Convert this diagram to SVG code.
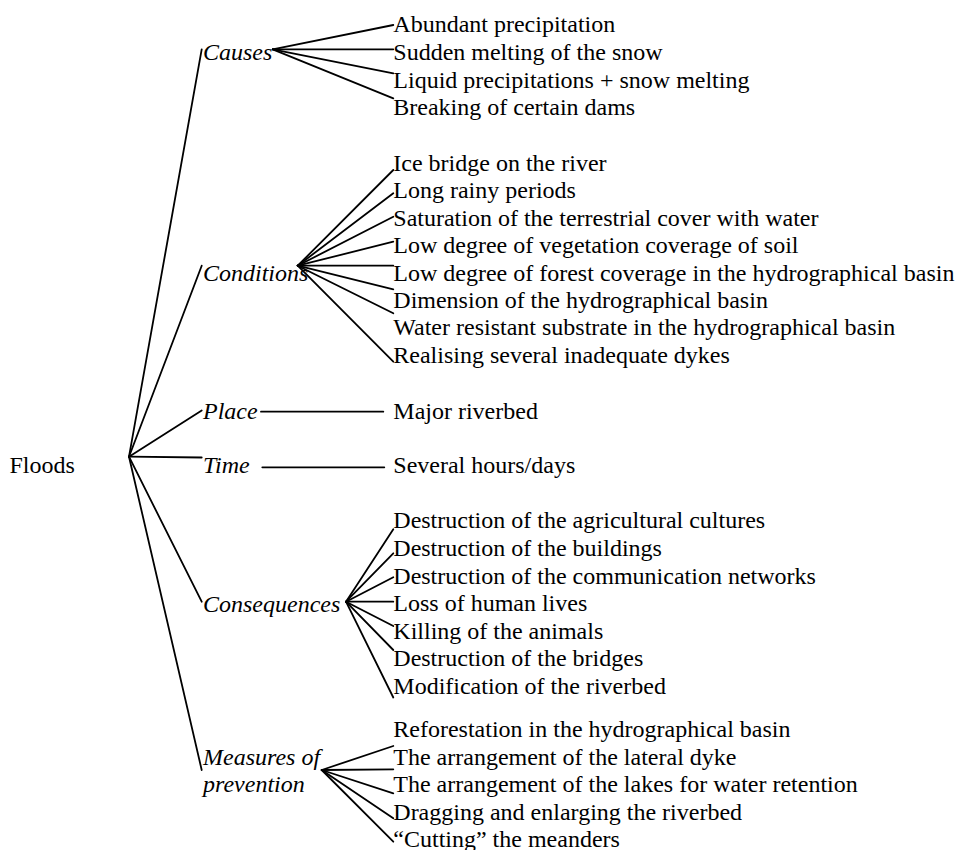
<svg xmlns="http://www.w3.org/2000/svg" width="956" height="850" viewBox="0 0 956 850">
<style>
text{font-family:"Liberation Serif","Times New Roman",serif;font-size:24px;fill:#000}
.i{font-style:italic}
#connectors line{stroke:#000;stroke-width:1.8;stroke-linecap:round}
</style>
<rect width="956" height="850" fill="#fff"/>
<g id="connectors">
<line x1="129" y1="456.7" x2="201.7" y2="49.3"/>
<line x1="129" y1="456.7" x2="201.7" y2="265.7"/>
<line x1="129" y1="456.7" x2="201.7" y2="410.5"/>
<line x1="129" y1="456.7" x2="201.7" y2="457.5"/>
<line x1="129" y1="456.7" x2="201.7" y2="601.7"/>
<line x1="129" y1="456.7" x2="201.7" y2="770"/>
<line x1="272.7" y1="49.3" x2="393.3" y2="25"/>
<line x1="272.7" y1="49.3" x2="393.3" y2="49.3"/>
<line x1="272.7" y1="49.3" x2="393.3" y2="73.3"/>
<line x1="272.7" y1="49.3" x2="393.3" y2="98.3"/>
<line x1="297.7" y1="265.7" x2="393.3" y2="170"/>
<line x1="297.7" y1="265.7" x2="393.3" y2="193.3"/>
<line x1="297.7" y1="265.7" x2="393.3" y2="216.7"/>
<line x1="297.7" y1="265.7" x2="393.3" y2="241.7"/>
<line x1="297.7" y1="265.7" x2="393.3" y2="265.7"/>
<line x1="297.7" y1="265.7" x2="393.3" y2="289.3"/>
<line x1="297.7" y1="265.7" x2="393.3" y2="313.3"/>
<line x1="297.7" y1="265.7" x2="393.3" y2="361.7"/>
<line x1="261" y1="411.7" x2="383.3" y2="411.7"/>
<line x1="262.3" y1="467.3" x2="384.3" y2="467.3"/>
<line x1="346" y1="601.7" x2="393.3" y2="529.3"/>
<line x1="346" y1="601.7" x2="393.3" y2="553.3"/>
<line x1="346" y1="601.7" x2="393.3" y2="577.3"/>
<line x1="346" y1="601.7" x2="393.3" y2="601.7"/>
<line x1="346" y1="601.7" x2="393.3" y2="626"/>
<line x1="346" y1="601.7" x2="393.3" y2="650"/>
<line x1="346" y1="601.7" x2="393.3" y2="697.5"/>
<line x1="321.7" y1="770" x2="393.3" y2="746"/>
<line x1="321.7" y1="770" x2="393.3" y2="769.3"/>
<line x1="321.7" y1="770" x2="393.3" y2="793.3"/>
<line x1="321.7" y1="770" x2="393.3" y2="818.3"/>
<line x1="321.7" y1="770" x2="393.3" y2="841.7"/>
</g>
<g id="floods"><text x="9.5" y="473.3">Floods</text></g>
<g id="causes"><text class="i" x="203" y="60">Causes</text></g>
<g id="conditions"><text class="i" x="203" y="281">Conditions</text></g>
<g id="place"><text class="i" x="203" y="419">Place</text></g>
<g id="time"><text class="i" x="203" y="473.3">Time</text></g>
<g id="consequences"><text class="i" x="203" y="611.5">Consequences</text></g>
<g id="measures"><text class="i" x="203" y="765">Measures of</text><text class="i" x="203" y="791.7">prevention</text></g>
<g id="causes-items">
<text x="393.3" y="32.3">Abundant precipitation</text>
<text x="393.3" y="60">Sudden melting of the snow</text>
<text x="393.3" y="87.7">Liquid precipitations + snow melting</text>
<text x="393.3" y="115">Breaking of certain dams</text>
</g>
<g id="conditions-items">
<text x="393.3" y="170.6">Ice bridge on the river</text>
<text x="393.3" y="198.2">Long rainy periods</text>
<text x="393.3" y="225.8">Saturation of the terrestrial cover with water</text>
<text x="393.3" y="253.3">Low degree of vegetation coverage of soil</text>
<text x="393.3" y="281">Low degree of forest coverage in the hydrographical basin</text>
<text x="393.3" y="308">Dimension of the hydrographical basin</text>
<text x="393.3" y="335.3">Water resistant substrate in the hydrographical basin</text>
<text x="393.3" y="362.5">Realising several inadequate dykes</text>
</g>
<g id="place-item"><text x="393.3" y="419">Major riverbed</text></g>
<g id="time-item"><text x="393.3" y="473.3">Several hours/days</text></g>
<g id="consequences-items">
<text x="393.3" y="528.3">Destruction of the agricultural cultures</text>
<text x="393.3" y="556">Destruction of the buildings</text>
<text x="393.3" y="584">Destruction of the communication networks</text>
<text x="393.3" y="611.3">Loss of human lives</text>
<text x="393.3" y="638.6">Killing of the animals</text>
<text x="393.3" y="666.2">Destruction of the bridges</text>
<text x="393.3" y="694">Modification of the riverbed</text>
</g>
<g id="measures-items">
<text x="393.3" y="737.2">Reforestation in the hydrographical basin</text>
<text x="393.3" y="765">The arrangement of the lateral dyke</text>
<text x="393.3" y="792.3">The arrangement of the lakes for water retention</text>
<text x="393.3" y="819.6">Dragging and enlarging the riverbed</text>
<text x="393.3" y="846.6">“Cutting” the meanders</text>
</g>
</svg>
